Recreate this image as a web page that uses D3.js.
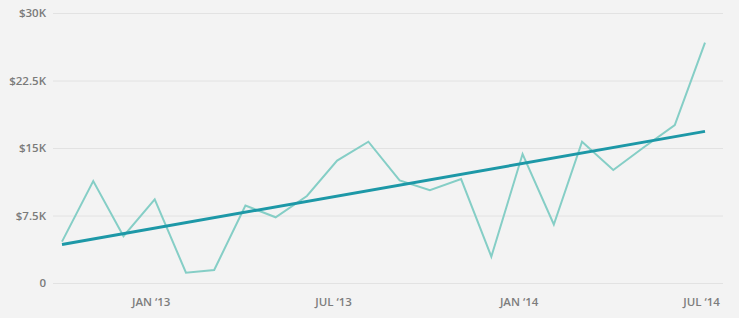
<!DOCTYPE html>
<html>
<head>
<meta charset="utf-8">
<script src="https://cdn.jsdelivr.net/npm/d3@7"></script>
<style>
  html, body { margin: 0; padding: 0; background: #f3f3f3; }
  svg { display: block; }
</style>
</head>
<body>
<div id="chart"></div>
<script>
// Monthly revenue, Oct 2012 - Jul 2014 (in dollars)
const months = [
  "2012-10", "2012-11", "2012-12",
  "2013-01", "2013-02", "2013-03", "2013-04", "2013-05", "2013-06",
  "2013-07", "2013-08", "2013-09", "2013-10", "2013-11", "2013-12",
  "2014-01", "2014-02", "2014-03", "2014-04", "2014-05", "2014-06", "2014-07",
];
const revenue = [
  4600, 11330, 5200,
  9300, 1150, 1440, 8600, 7300, 9670,
  13600, 15700, 11400, 10300, 11550, 2930,
  14330, 6500, 15700, 12550, 15050, 17550, 26700,
];
const yTicks = [0, 7500, 15000, 22500, 30000];
const yTickLabels = ["0", "$7.5K", "$15K", "$22.5K", "$30K"];
const xTicks = ["2013-01", "2013-07", "2014-01", "2014-07"];
const xTickLabels = ["JAN \u201813", "JUL \u201813", "JAN \u201814", "JUL \u201814"];

const width = 739, height = 318;
const FONT = "'Open Sans', Lato, sans-serif";
const parseMonth = d3.timeParse("%Y-%m");

const data = months.map((m, i) => ({ date: parseMonth(m), value: revenue[i] }));

// Least squares trend over month index
const n = data.length;
const mx = d3.mean(data, (d, i) => i);
const my = d3.mean(data, (d) => d.value);
const slope = d3.sum(data, (d, i) => (i - mx) * (d.value - my)) /
  d3.sum(data, (d, i) => (i - mx) * (i - mx));
const trend = [0, n - 1].map((i) => ({
  date: data[i].date,
  value: my + slope * (i - mx),
}));

const x = d3.scaleTime()
  .domain(d3.extent(data, (d) => d.date))
  .range([62, 705]);

const y = d3.scaleLinear()
  .domain([0, 30000])
  .range([283, 13]);

const svg = d3.select("#chart")
  .append("svg")
  .attr("width", width)
  .attr("height", height);

// Horizontal grid + y labels
const yAxis = svg.append("g")
  .attr("transform", "translate(53,0)")
  .call(
    d3.axisLeft(y)
      .tickValues(yTicks)
      .tickFormat((d, i) => yTickLabels[i])
      .tickSize(-(723 - 53))
      .tickPadding(7)
  )
  .attr("font-family", FONT);
yAxis.select(".domain").remove();
yAxis.selectAll(".tick line").attr("stroke", "#e2e2e2").attr("stroke-width", 1);
yAxis.selectAll(".tick text")
  .attr("font-size", 11.5)
  .attr("font-weight", 600)
  .attr("fill", "#7a7a7a");

// X labels
const xAxis = svg.append("g")
  .attr("transform", "translate(0,283)")
  .call(
    d3.axisBottom(x)
      .tickValues(xTicks.map(parseMonth))
      .tickFormat((d, i) => xTickLabels[i])
      .tickSize(0)
      .tickPadding(15)
  )
  .attr("font-family", FONT);
xAxis.select(".domain").remove();
xAxis.selectAll(".tick text")
  .attr("dx", -4)
  .attr("font-size", 11.5)
  .attr("font-weight", 600)
  .attr("fill", "#7d7d7d");

const line = d3.line()
  .x((d) => x(d.date))
  .y((d) => y(d.value));

svg.append("path")
  .datum(data)
  .attr("fill", "none")
  .attr("stroke", "#85cec6")
  .attr("stroke-width", 2)
  .attr("d", line);

svg.append("path")
  .datum(trend)
  .attr("fill", "none")
  .attr("stroke", "#1d98a7")
  .attr("stroke-width", 3)
  .attr("d", line);
</script>
</body>
</html>
